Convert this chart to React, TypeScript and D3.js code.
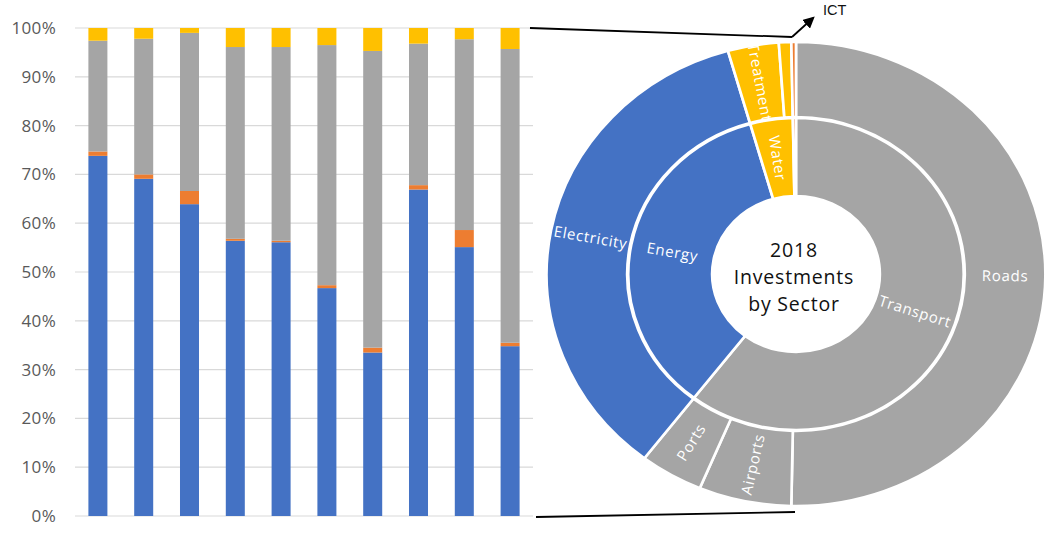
import React from "react";
import * as d3 from "d3";

// ---- Bar chart data (share of investment, %) ----
const categories = ["1", "2", "3", "4", "5", "6", "7", "8", "9", "10"];
const energy = [73.8, 69.1, 63.9, 56.4, 56.1, 46.7, 33.5, 66.9, 55.1, 34.8];
const ict = [0.9, 0.9, 2.7, 0.4, 0.3, 0.6, 1.0, 0.9, 3.5, 0.7];
const transport = [22.7, 27.8, 32.4, 39.3, 39.7, 49.2, 60.8, 29.0, 39.1, 60.2];
const water = [2.6, 2.2, 1.0, 3.9, 3.9, 3.5, 4.7, 3.2, 2.3, 4.3];
const yTicks = [0, 10, 20, 30, 40, 50, 60, 70, 80, 90, 100];

// ---- Sunburst data (2018) ----
const innerLabels = ["Transport", "Energy", "Water", "ICT"];
const innerValues = [60.4, 35.2, 4.1, 0.3];
const innerColorKeys = ["transport", "energy", "water", "ict"];
const outerLabels = ["Roads", "Airports", "Ports", "Electricity", "Treatment", "", "ICT"];
const outerValues = [50.3, 6.0, 4.1, 35.2, 3.3, 0.8, 0.3];
const outerColorKeys = ["transport", "transport", "transport", "energy", "water", "water", "ict"];
const centerTitle = ["2018", "Investments", "by Sector"];

const colors: Record<string, string> = {
  energy: "#4472C4",
  ict: "#ED7D31",
  transport: "#A5A5A5",
  water: "#FFC000",
};

const W = 1047;
const H = 551;

export default function App() {
  // Bar chart scales
  const x = d3.scaleBand<string>().domain(categories).range([75, 533]).paddingInner(0.585).paddingOuter(0.2925);
  const y = d3.scaleLinear().domain([0, 100]).range([516, 28]);
  const rows = categories.map((c, i) => ({ cat: c, energy: energy[i], ict: ict[i], transport: transport[i], water: water[i] }));
  const keys = ["energy", "ict", "transport", "water"];
  const stacked = d3.stack<any>().keys(keys)(rows);

  // Sunburst geometry
  const cx = 796;
  const cy = 274;
  const sx = 1.075;
  const pie = d3.pie<number>().sort(null).value((d) => d).startAngle(0).endAngle(2 * Math.PI);
  const innerArcs = pie(innerValues);
  const outerArcs = pie(outerValues);
  const rIn0 = 78, rIn1 = 156, rOut0 = 157, rOut1 = 232;
  const arcInner = d3.arc<any>().innerRadius(rIn0).outerRadius(rIn1);
  const arcOuter = d3.arc<any>().innerRadius(rOut0).outerRadius(rOut1);

  const labelPos = (a: any, r: number) => {
    const th = (a.startAngle + a.endAngle) / 2;
    const px = cx + sx * r * Math.sin(th);
    const py = cy - r * Math.cos(th);
    let rot = (Math.atan2(-Math.cos(th), sx * Math.sin(th)) * 180) / Math.PI;
    if (Math.sin(th) < 0) rot += 180;
    return { px, py, rot };
  };

  const lblFont = "'Open Sans', sans-serif";

  return (
    <svg width={W} height={H} style={{ position: "absolute", left: 0, top: 0, background: "#fff" }}>
      <rect x={0} y={0} width={W} height={H} fill="#fff" />
      {/* gridlines */}
      {yTicks.map((t) => (
        <line key={t} x1={75} x2={533} y1={y(t)} y2={y(t)} stroke="#D9D9D9" strokeWidth={1.2} />
      ))}
      {yTicks.map((t) => (
        <text key={"l" + t} x={56} y={y(t)} dy="0.35em" textAnchor="end" fontFamily={lblFont} fontSize={17} letterSpacing={0.3} fill="#595959">
          {t}%
        </text>
      ))}
      {/* bars */}
      {stacked.map((s) => (
        <g key={s.key} fill={colors[s.key]}>
          {s.map((d: any, i: number) => (
            <rect key={i} x={x(d.data.cat)} width={x.bandwidth()} y={y(d[1])} height={Math.max(0, y(d[0]) - y(d[1]))} />
          ))}
        </g>
      ))}

      {/* connector lines */}
      <line x1={530} y1={28} x2={792} y2={37} stroke="#000" strokeWidth={1.8} />
      <line x1={536} y1={517} x2={795} y2={512} stroke="#000" strokeWidth={1.8} />
      <defs>
        <marker id="arr" viewBox="0 0 10 10" refX={8} refY={5} markerWidth={6.5} markerHeight={6.5} orient="auto">
          <path d="M0,0 L10,5 L0,10 z" fill="#000" />
        </marker>
      </defs>
      <line x1={792} y1={37} x2={813} y2={18} stroke="#000" strokeWidth={1.8} markerEnd="url(#arr)" />
      <text x={823} y={15} fontFamily="'Liberation Sans', Arial, sans-serif" fontSize={14.5} fill="#111">
        ICT
      </text>

      {/* sunburst */}
      <g transform={`translate(${cx},${cy}) scale(${sx},1)`}>
        {innerArcs.map((a, i) => (
          <path key={"i" + i} d={arcInner(a) as string} fill={colors[innerColorKeys[i]]} stroke="#fff" strokeWidth={2.5} />
        ))}
        {outerArcs.map((a, i) => (
          <path key={"o" + i} d={arcOuter(a) as string} fill={colors[outerColorKeys[i]]} stroke="#fff" strokeWidth={2.5} />
        ))}
      </g>
      {innerArcs.map((a, i) => {
        if (innerValues[i] < 3 || innerLabels[i] === "") return null;
        const p = labelPos(a, (rIn0 + rIn1) / 2);
        return (
          <text key={"il" + i} transform={`translate(${p.px},${p.py}) rotate(${p.rot})`} textAnchor="middle" dy="0.35em" fontFamily={lblFont} fontSize={15} letterSpacing={0.7} fill="#fff">
            {innerLabels[i]}
          </text>
        );
      })}
      {outerArcs.map((a, i) => {
        if (outerValues[i] < 3 || outerLabels[i] === "") return null;
        const p = labelPos(a, (rOut0 + rOut1) / 2);
        return (
          <text key={"ol" + i} transform={`translate(${p.px},${p.py}) rotate(${p.rot})`} textAnchor="middle" dy="0.35em" fontFamily={lblFont} fontSize={15} letterSpacing={0.7} fill="#fff">
            {outerLabels[i]}
          </text>
        );
      })}
      {centerTitle.map((t, i) => (
        <text key={"c" + i} x={794} y={256.5 + i * 27} textAnchor="middle" fontFamily={lblFont} fontSize={19.5} letterSpacing={0.8} fill="#111">
          {t}
        </text>
      ))}
    </svg>
  );
}
